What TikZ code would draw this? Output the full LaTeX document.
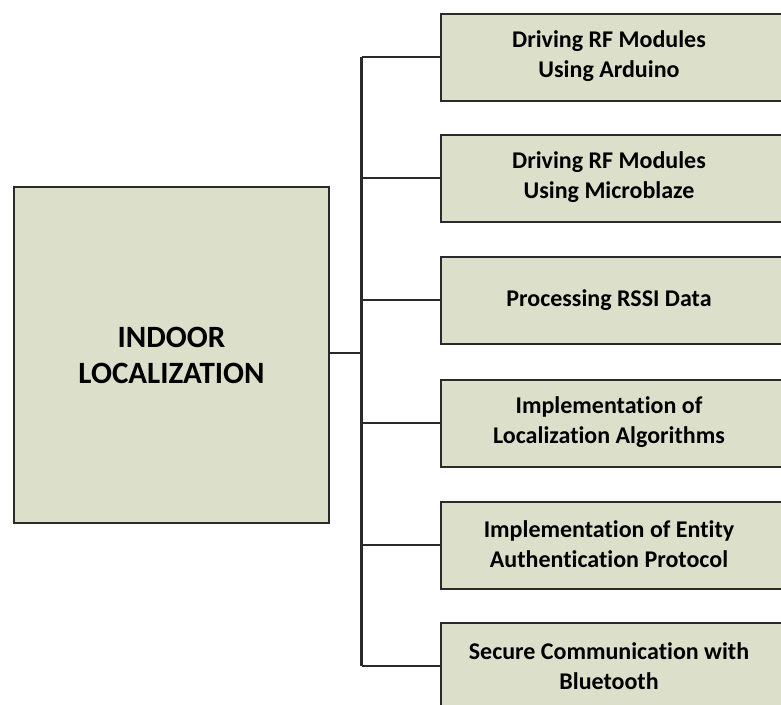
\documentclass[tikz,border=0pt]{standalone}
\usepackage{fontspec}
\setmainfont{Carlito}[Ligatures=NoCommon]
\definecolor{boxfill}{HTML}{DCE0CA}
\definecolor{edge}{HTML}{2A2A2A}
\begin{document}
\begin{tikzpicture}[x=1pt,y=-1pt,
  box/.style={draw=edge,line width=2pt,fill=boxfill,align=center,inner sep=0pt},
  sub/.style={box,minimum width=350pt,minimum height=87pt,anchor=north west},
  lab/.style={align=center,font=\bfseries\fontsize{24}{29.5}\selectfont},
  link/.style={draw=edge,line width=2.2pt}]
\useasboundingbox (0,0) rectangle (781,704);
\begin{scope}
\clip (0,0) rectangle (781,704);
\node[box,minimum width=315pt,minimum height=336pt,anchor=north west,font=\bfseries\fontsize{31}{36}\selectfont] (main) at (13,186) {INDOOR\\LOCALIZATION};
\node[sub] (b1) at (440,13) {};
\node[sub] (b2) at (440,134) {};
\node[sub] (b3) at (440,256) {};
\node[sub] (b4) at (440,379) {};
\node[sub] (b5) at (440,501) {};
\node[sub] (b6) at (440,622) {};
\end{scope}
\node[lab] (t1) at (609,56) {Driving RF Modules\\Using Arduino};
\node[lab] (t2) at (609,177) {Driving RF Modules\\Using Microblaze};
\node[lab] (t3) at (609,300) {Processing RSSI Data};
\node[lab] (t4) at (609,422) {Implementation of\\Localization Algorithms};
\node[lab] (t5) at (609,544) {Implementation of Entity\\Authentication Protocol};
\node[lab] (t6) at (609,666) {Secure Communication with\\Bluetooth};
\coordinate (j) at (361.5,353);
\coordinate (top) at (361.5,57);
\coordinate (bot) at (361.5,666);
\draw[link] (main.east |- j) -- (j);
\draw[link] (top) -- (bot);
\draw[link] (top) -- (b1.west |- top);
\draw[link] (361.5,178) -- (b2.west |- 0,178);
\draw[link] (361.5,300) -- (b3.west |- 0,300);
\draw[link] (361.5,423) -- (b4.west |- 0,423);
\draw[link] (361.5,545) -- (b5.west |- 0,545);
\draw[link] (bot) -- (b6.west |- bot);
\end{tikzpicture}
\end{document}
